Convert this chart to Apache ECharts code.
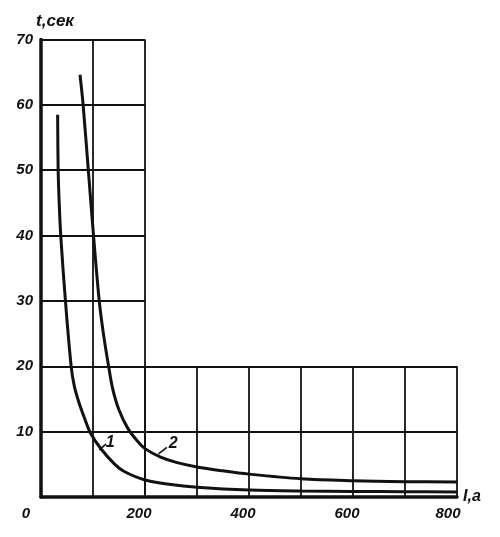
<!DOCTYPE html>
<html>
<head>
<meta charset="utf-8">
<script src="https://cdn.jsdelivr.net/npm/echarts@6.0.0/dist/echarts.min.js"></script>
<style>
html,body{margin:0;padding:0;background:#fff;}
#c{width:500px;height:537px;}
</style>
</head>
<body>
<div id="c"></div>
<script>
// ---- data ----
const curve1I = [32, 33, 35, 38, 47, 58, 64, 72, 84, 95, 116, 142, 160, 200, 250, 300, 400, 500, 600, 700, 800];
const curve1T = [58.5, 50, 45, 40, 30, 20, 17, 14.7, 12, 9.8, 7.3, 5.0, 3.9, 2.6, 1.9, 1.5, 1.07, 0.9, 0.85, 0.8, 0.78];
const curve2I = [75, 81, 91, 101, 112, 120, 130, 138, 150, 167, 185, 200, 230, 260, 300, 350, 400, 500, 600, 700, 800];
const curve2T = [64.6, 60, 50, 40, 30, 25, 20, 16.5, 13.3, 10.5, 8.6, 7.4, 6.1, 5.3, 4.6, 4.0, 3.5, 2.8, 2.5, 2.35, 2.3];
const curveNames = ['1', '2'];
const labelI = [133, 254];
const labelT = [8.3, 8.1];
const leaderFromI = [112, 226];
const leaderFromT = [7.2, 6.6];
const leaderToI = [125, 242];
const leaderToT = [8.1, 7.6];
const xTickStep = 200, xMax = 800;
const yTickStep = 10, yMax = 70;
const xName = 'I,а';
const yName = 't,сек';
// L-shaped grid: tall part and low part
const tallXMax = 200, lowYMax = 20, gridStep = 100;

// ---- layout ----
const L = 41, R = 43, T = 39.5, B = 40;
const W = 500 - L - R, H = 537 - T - B;
const ink = '#111';
const font = 'Liberation Sans';
const lbl = {fontFamily: font, fontWeight: 'bold', fontStyle: 'italic', fontSize: 15, color: ink};

function zip(a, b) { return a.map((v, i) => [v, b[i]]); }

const tallW = W * tallXMax / xMax;
const lowH = H * lowYMax / yMax;

const gridLine = {show: true, lineStyle: {color: ink, width: 1.8}};
const hidden = {axisLine: {show: false}, axisTick: {show: false}, axisLabel: {show: false}};

const chart = echarts.init(document.getElementById('c'), null, {renderer: 'canvas'});
chart.setOption({
  backgroundColor: '#fff',
  animation: false,
  grid: [
    {left: L, right: R, top: T, bottom: B},
    {left: L, top: T, width: tallW, height: H},
    {left: L + tallW, top: T + H - lowH, width: W - tallW, height: lowH}
  ],
  xAxis: [
    {
      gridIndex: 0, type: 'value', min: 0, max: xMax, interval: xTickStep, z: 5,
      axisLine: {show: true, onZero: false, lineStyle: {color: ink, width: 3.5}},
      axisTick: {show: false}, splitLine: {show: false},
      axisLabel: Object.assign({}, lbl, {
        margin: 9,
        formatter: v => v === 0 ? '{z|0}' : (v === xMax ? '{e|' + v + '}' : '{m|' + v + '}'),
        rich: {
          z: Object.assign({}, lbl, {padding: [0, 30, 0, 0]}),
          m: Object.assign({}, lbl, {padding: [0, 12, 0, 0]}),
          e: Object.assign({}, lbl, {padding: [0, 18, 0, 0]})
        }
      }),
      name: xName, nameLocation: 'end', nameGap: 6,
      nameTextStyle: Object.assign({}, lbl, {fontSize: 16, verticalAlign: 'middle'})
    },
    Object.assign({gridIndex: 1, type: 'value', min: 0, max: tallXMax, interval: gridStep, splitLine: gridLine}, hidden),
    Object.assign({gridIndex: 2, type: 'value', min: tallXMax, max: xMax, interval: gridStep, splitLine: gridLine}, hidden)
  ],
  yAxis: [
    {
      gridIndex: 0, type: 'value', min: 0, max: yMax, interval: yTickStep, z: 5,
      axisLine: {show: true, onZero: false, lineStyle: {color: ink, width: 3.5}},
      axisTick: {show: false}, splitLine: {show: false},
      axisLabel: Object.assign({}, lbl, {margin: 8, formatter: v => v === 0 ? '' : String(v)}),
      name: yName, nameLocation: 'end', nameGap: 10,
      nameTextStyle: Object.assign({}, lbl, {fontSize: 17, padding: [0, 0, 0, 28]})
    },
    Object.assign({gridIndex: 1, type: 'value', min: 0, max: yMax, interval: yTickStep, splitLine: gridLine}, hidden),
    Object.assign({gridIndex: 2, type: 'value', min: 0, max: lowYMax, interval: yTickStep, splitLine: gridLine}, hidden)
  ],
  series: [
    {
      type: 'line', xAxisIndex: 0, yAxisIndex: 0, data: zip(curve1I, curve1T),
      smooth: 0.35, showSymbol: false, symbol: 'none', clip: false, z: 4,
      lineStyle: {color: ink, width: 3}
    },
    {
      type: 'line', xAxisIndex: 0, yAxisIndex: 0, data: zip(curve2I, curve2T),
      smooth: 0.35, showSymbol: false, symbol: 'none', clip: false, z: 4,
      lineStyle: {color: ink, width: 3}
    },
    {
      type: 'lines', coordinateSystem: 'cartesian2d', xAxisIndex: 0, yAxisIndex: 0, z: 4,
      lineStyle: {color: ink, width: 1.6, opacity: 1},
      data: curveNames.map((n, i) => ({coords: [[leaderFromI[i], leaderFromT[i]], [leaderToI[i], leaderToT[i]]]}))
    },
    {
      type: 'scatter', xAxisIndex: 0, yAxisIndex: 0, symbolSize: 0, z: 6,
      itemStyle: {opacity: 1},
      data: curveNames.map((n, i) => ({value: [labelI[i], labelT[i]], name: n})),
      label: Object.assign({}, lbl, {show: true, position: [0, 0], align: 'center', verticalAlign: 'middle',
        fontSize: 16, textBorderWidth: 0, formatter: p => p.name})
    }
  ]
});
</script>
</body>
</html>
